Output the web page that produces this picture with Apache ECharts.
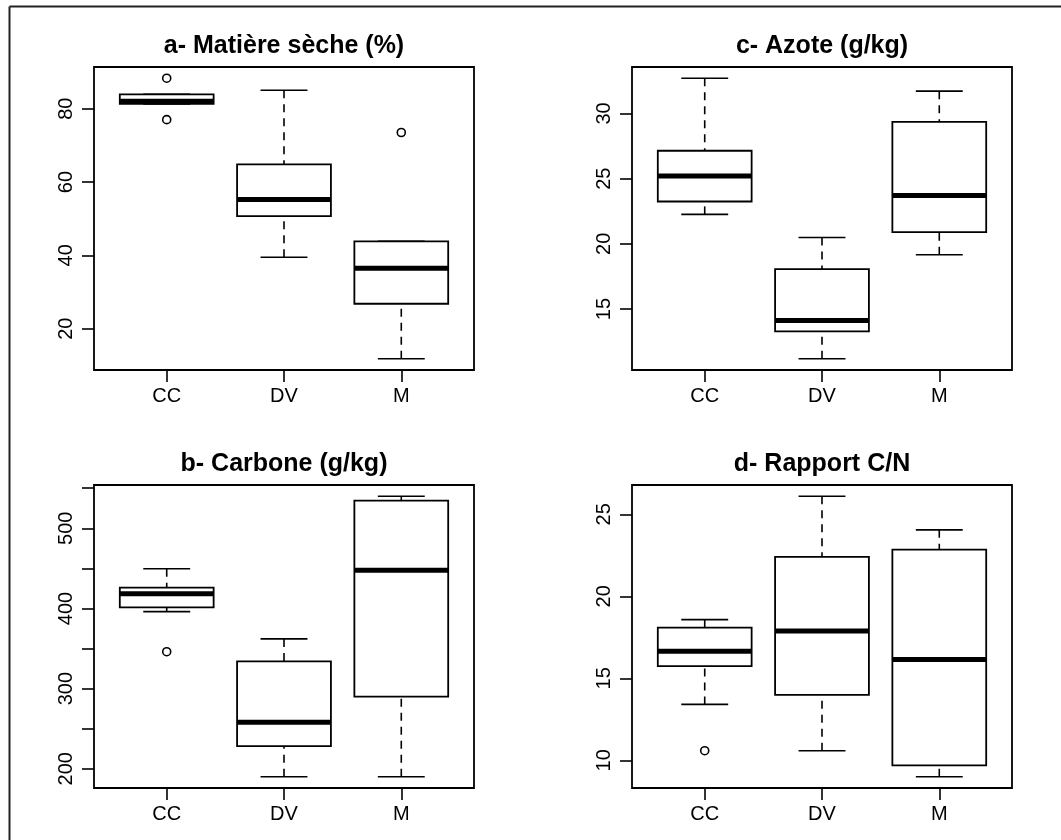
<!DOCTYPE html>
<html>
<head>
<meta charset="utf-8">
<title>Boxplots</title>
<script src="https://cdn.jsdelivr.net/npm/echarts@6/dist/echarts.min.js"></script>
<style>
  html, body { margin: 0; padding: 0; background: #ffffff; }
  #chart { width: 1061px; height: 840px; }
</style>
</head>
<body>
<div id="chart"></div>
<script>
// Groups shown on every panel
const categories = ['CC', 'DV', 'M'];

// Box statistics per group: [lower whisker, Q1, median, Q3, upper whisker]
const dryMatterStats = [
  [81.3, 81.3, 82.0, 83.9, 83.9],
  [39.5, 50.7, 55.2, 64.8, 85.0],
  [11.8, 26.8, 36.5, 43.8, 43.8]
];
const dryMatterOutliers = [[1, 88.3], [1, 77.0], [3, 73.5]];
const dryMatterTicks = [20, 40, 60, 80];
const dryMatterLabels = [20, 40, 60, 80];

const carbonStats = [
  [396, 401.4, 418.4, 425.9, 449.6],
  [190, 228.3, 258, 334, 362],
  [190, 290, 447.6, 534.5, 540]
];
const carbonOutliers = [[1, 346]];
const carbonTicks = [200, 250, 300, 350, 400, 450, 500, 550];
const carbonLabels = [200, 300, 400, 500];

const nitrogenStats = [
  [22.26, 23.25, 25.2, 27.14, 32.7],
  [11.19, 13.29, 14.13, 18.06, 20.49],
  [19.16, 20.9, 23.71, 29.36, 31.71]
];
const nitrogenOutliers = [];
const nitrogenTicks = [15, 20, 25, 30];
const nitrogenLabels = [15, 20, 25, 30];

const cnStats = [
  [13.41, 15.75, 16.65, 18.09, 18.58],
  [10.59, 13.99, 17.89, 22.4, 26.1],
  [9.0, 9.7, 16.15, 22.85, 24.05]
];
const cnOutliers = [[1, 10.59]];
const cnTicks = [10, 15, 20, 25];
const cnLabels = [10, 15, 20, 25];

const FONT = '"Liberation Sans", Arial, Helvetica, sans-serif';
const INK = '#000000';

const panels = [
  { title: 'a- Matière sèche (%)', stats: dryMatterStats, outliers: dryMatterOutliers,
    ticks: dryMatterTicks, labels: dryMatterLabels, left: 94, top: 67 },
  { title: 'c- Azote (g/kg)', stats: nitrogenStats, outliers: nitrogenOutliers,
    ticks: nitrogenTicks, labels: nitrogenLabels, left: 632, top: 67 },
  { title: 'b- Carbone (g/kg)', stats: carbonStats, outliers: carbonOutliers,
    ticks: carbonTicks, labels: carbonLabels, left: 94, top: 485 },
  { title: 'd- Rapport C/N', stats: cnStats, outliers: cnOutliers,
    ticks: cnTicks, labels: cnLabels, left: 632, top: 485 }
];
const PW = 380, PH = 303;

// Axis limits: data range padded by 4% on each side
function paddedRange(stats, outliers) {
  let lo = Infinity, hi = -Infinity;
  stats.forEach(s => s.forEach(v => { lo = Math.min(lo, v); hi = Math.max(hi, v); }));
  outliers.forEach(o => { lo = Math.min(lo, o[1]); hi = Math.max(hi, o[1]); });
  const pad = (hi - lo) * 0.04;
  return [lo - pad, hi + pad];
}

// Draws one box with dashed whiskers, staples and a heavy median bar
function renderBox(params, api) {
  const x = api.value(0);
  const lowP = api.coord([x, api.value(1)]);
  const q1P = api.coord([x, api.value(2)]);
  const medP = api.coord([x, api.value(3)]);
  const q3P = api.coord([x, api.value(4)]);
  const highP = api.coord([x, api.value(5)]);
  const boxW = api.size([0.8, 0])[0];
  const capW = api.size([0.4, 0])[0];
  const cx = lowP[0];
  const thin = { stroke: INK, lineWidth: 1.6, fill: null };
  const dashed = { stroke: INK, lineWidth: 1.6, lineDash: [8, 6], fill: null };
  return {
    type: 'group',
    children: [
      { type: 'line', shape: { x1: cx, y1: highP[1], x2: cx, y2: q3P[1] }, style: dashed },
      { type: 'line', shape: { x1: cx, y1: lowP[1], x2: cx, y2: q1P[1] }, style: dashed },
      { type: 'line', shape: { x1: cx - capW / 2, y1: highP[1], x2: cx + capW / 2, y2: highP[1] }, style: thin },
      { type: 'line', shape: { x1: cx - capW / 2, y1: lowP[1], x2: cx + capW / 2, y2: lowP[1] }, style: thin },
      { type: 'rect', shape: { x: cx - boxW / 2, y: q3P[1], width: boxW, height: q1P[1] - q3P[1] },
        style: { stroke: INK, lineWidth: 1.8, fill: '#ffffff' } },
      { type: 'line', shape: { x1: cx - boxW / 2, y1: medP[1], x2: cx + boxW / 2, y2: medP[1] },
        style: { stroke: INK, lineWidth: 5, fill: null } }
    ]
  };
}

const grids = [], xAxes = [], yAxes = [], series = [], titles = [];

panels.forEach((p, i) => {
  const [ymin, ymax] = paddedRange(p.stats, p.outliers);
  grids.push({
    left: p.left, top: p.top, width: PW, height: PH,
    show: true, borderColor: INK, borderWidth: 1.8, backgroundColor: 'transparent'
  });
  xAxes.push({
    type: 'value', gridIndex: i, min: 0.38, max: 3.62,
    axisLine: { show: false },
    splitLine: { show: false },
    axisTick: { show: true, inside: false, length: 12, customValues: [1, 2, 3],
      lineStyle: { color: INK, width: 1.6 } },
    axisLabel: { show: true, customValues: [1, 2, 3], margin: 16,
      formatter: v => categories[Math.round(v) - 1],
      color: INK, fontSize: 20, fontFamily: FONT }
  });
  yAxes.push({
    type: 'value', gridIndex: i, min: ymin, max: ymax,
    axisLine: { show: false },
    splitLine: { show: false },
    axisTick: { show: true, inside: false, length: 12, customValues: p.ticks,
      lineStyle: { color: INK, width: 1.6 } },
    axisLabel: { show: true, customValues: p.labels, rotate: 90, margin: 18,
      color: INK, fontSize: 20, fontFamily: FONT }
  });
  series.push({
    type: 'custom', xAxisIndex: i, yAxisIndex: i,
    renderItem: renderBox,
    encode: { x: 0, y: [1, 2, 3, 4, 5] },
    data: p.stats.map((s, k) => [k + 1].concat(s)),
    silent: true
  });
  series.push({
    type: 'scatter', xAxisIndex: i, yAxisIndex: i,
    symbol: 'circle', symbolSize: 8,
    itemStyle: { color: '#ffffff', borderColor: INK, borderWidth: 1.6, opacity: 1 },
    data: p.outliers,
    silent: true, z: 3
  });
  titles.push({
    text: p.title,
    left: p.left + PW / 2, top: p.top - 33, textAlign: 'center', padding: 0,
    textStyle: { color: INK, fontSize: 25, fontWeight: 'bold', fontFamily: FONT }
  });
});

const chart = echarts.init(document.getElementById('chart'), null, { renderer: 'canvas' });
chart.setOption({
  backgroundColor: '#ffffff',
  animation: false,
  title: titles,
  grid: grids,
  xAxis: xAxes,
  yAxis: yAxes,
  series: series,
  graphic: [
    { type: 'line', shape: { x1: 9.5, y1: 6.5, x2: 1061, y2: 6.5 },
      style: { stroke: '#222222', lineWidth: 2 }, silent: true },
    { type: 'line', shape: { x1: 9.5, y1: 6.5, x2: 9.5, y2: 840 },
      style: { stroke: '#222222', lineWidth: 2 }, silent: true }
  ]
});
</script>
</body>
</html>
